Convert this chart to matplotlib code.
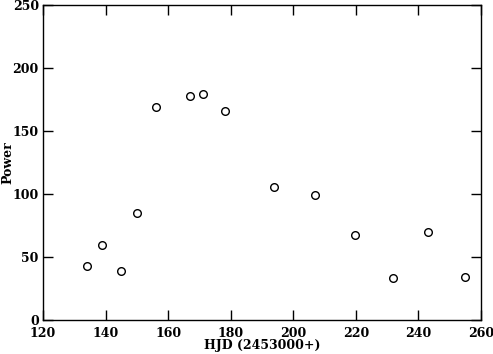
import matplotlib
matplotlib.use("Agg")
import matplotlib.pyplot as plt

# HJD - 2453000 and power
hjd = [134.1, 138.9, 144.9, 150.0, 156.1, 167.0, 171.1, 178.2,
       193.8, 206.9, 219.7, 231.9, 243.0, 254.9]
power = [43, 59.5, 39, 85, 169, 177.8, 179.4, 166,
         105.6, 99.2, 67.5, 33.3, 69.8, 34.1]

xticks = [120, 140, 160, 180, 200, 220, 240, 260]
yticks = [0, 50, 100, 150, 200, 250]

plt.rcParams["font.family"] = ["DejaVu Serif"]

fig = plt.figure(figsize=(4.93, 3.54), dpi=100)
ax = fig.add_axes([0.0872, 0.096, 0.8885, 0.8899])

ax.plot(hjd, power, "o", mfc="none", mec="black", ms=5.5, mew=1.0)

ax.set_xlim(120, 260)
ax.set_ylim(0, 250)
ax.set_xticks(xticks)
ax.set_yticks(yticks)
ax.tick_params(direction="in", length=7, width=1.0, top=True, right=True,
               labelsize=9)
ax.tick_params(axis="x", pad=5)
ax.tick_params(axis="y", pad=3)
for lab in ax.get_xticklabels() + ax.get_yticklabels():
    lab.set_fontweight("bold")
for s in ax.spines.values():
    s.set_linewidth(1.0)

ax.set_xlabel("HJD (2453000+)", fontsize=9, fontweight="bold", labelpad=-1)
fig.text(0.002, 0.54, "Power", rotation=90, fontsize=9,
         fontweight="bold", ha="left", va="center")

fig.savefig("out.png", dpi=100)
